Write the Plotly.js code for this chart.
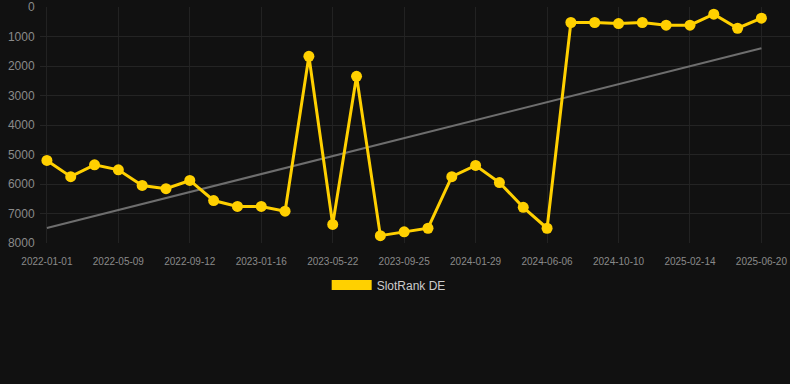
<!DOCTYPE html>
<html>
<head>
<meta charset="utf-8">
<script src="https://cdn.plot.ly/plotly-3.0.1.min.js"></script>
<style>html,body{margin:0;padding:0;background:#111111;}#chart{width:790px;height:384px;}</style>
</head>
<body>
<div id="chart"></div>
<script>
const dates = ["2022-01-01","2022-02-12","2022-03-27","2022-05-09","2022-06-20","2022-08-01","2022-09-12","2022-10-24","2022-12-05","2023-01-16","2023-02-27","2023-04-10","2023-05-22","2023-07-03","2023-08-14","2023-09-25","2023-11-06","2023-12-18","2024-01-29","2024-03-12","2024-04-24","2024-06-06","2024-07-18","2024-08-29","2024-10-10","2024-11-21","2025-01-03","2025-02-14","2025-03-28","2025-05-09","2025-06-20"];
const rankDE = [5200,5750,5350,5520,6050,6160,5880,6560,6760,6760,6920,1670,7370,2350,7750,7620,7500,5750,5370,5950,6790,7500,525,525,560,525,615,615,245,720,380];
const tickLabels = ["2022-01-01","2022-05-09","2022-09-12","2023-01-16","2023-05-22","2023-09-25","2024-01-29","2024-06-06","2024-10-10","2025-02-14","2025-06-20"];
const trendX = ["2022-01-01","2025-06-20"];
const trendY = [7490,1400];
const yTicks = [0,1000,2000,3000,4000,5000,6000,7000,8000];
const seriesName = "SlotRank DE";

const traces = [
  {x: trendX, y: trendY, type:'scatter', mode:'lines', line:{color:'#6e6e6e', width:2}, showlegend:false, hoverinfo:'skip'},
  {x: dates, y: rankDE, type:'scatter', mode:'lines+markers', name: seriesName,
   line:{color:'#FFD000', width:3}, marker:{color:'#FFD000', size:11}, showlegend:false},
  {x:[null], y:[null], type:'scatter', mode:'lines', name: seriesName, line:{color:'#FFD000', width:12}, showlegend:true}
];

const layout = {
  width:790, height:384,
  paper_bgcolor:'#111111', plot_bgcolor:'#111111',
  margin:{l:40, r:0, t:6.5, b:141},
  xaxis:{type:'category', categoryorder:'array', categoryarray:dates,
    range:[-0.29, 31.2], tickvals: tickLabels, ticktext: tickLabels,
    showgrid:true, gridcolor:'#222222', zeroline:false, showline:false,
    tickfont:{family:'Arial, Liberation Sans, sans-serif', size:10, color:'#8a8a8a'},
    ticks:'outside', ticklen:9, tickcolor:'rgba(0,0,0,0)'},
  yaxis:{range:[8000,0], tickvals:yTicks, showgrid:true, gridcolor:'#242424', zeroline:false, showline:false,
    tickfont:{family:'Arial, Liberation Sans, sans-serif', size:12, color:'#8a8a8a'},
    ticks:'outside', ticklen:2, tickcolor:'rgba(0,0,0,0)'},
  showlegend:true,
  legend:{orientation:'h', xref:'container', yref:'container', x:0.492, xanchor:'center', y:0.258, yanchor:'middle',
    font:{family:'Arial, Liberation Sans, sans-serif', size:12, color:'#cccccc'}, itemwidth:40, bgcolor:'rgba(0,0,0,0)'}
};
Plotly.newPlot('chart', traces, layout, {displayModeBar:false, staticPlot:true});
</script>
</body>
</html>
